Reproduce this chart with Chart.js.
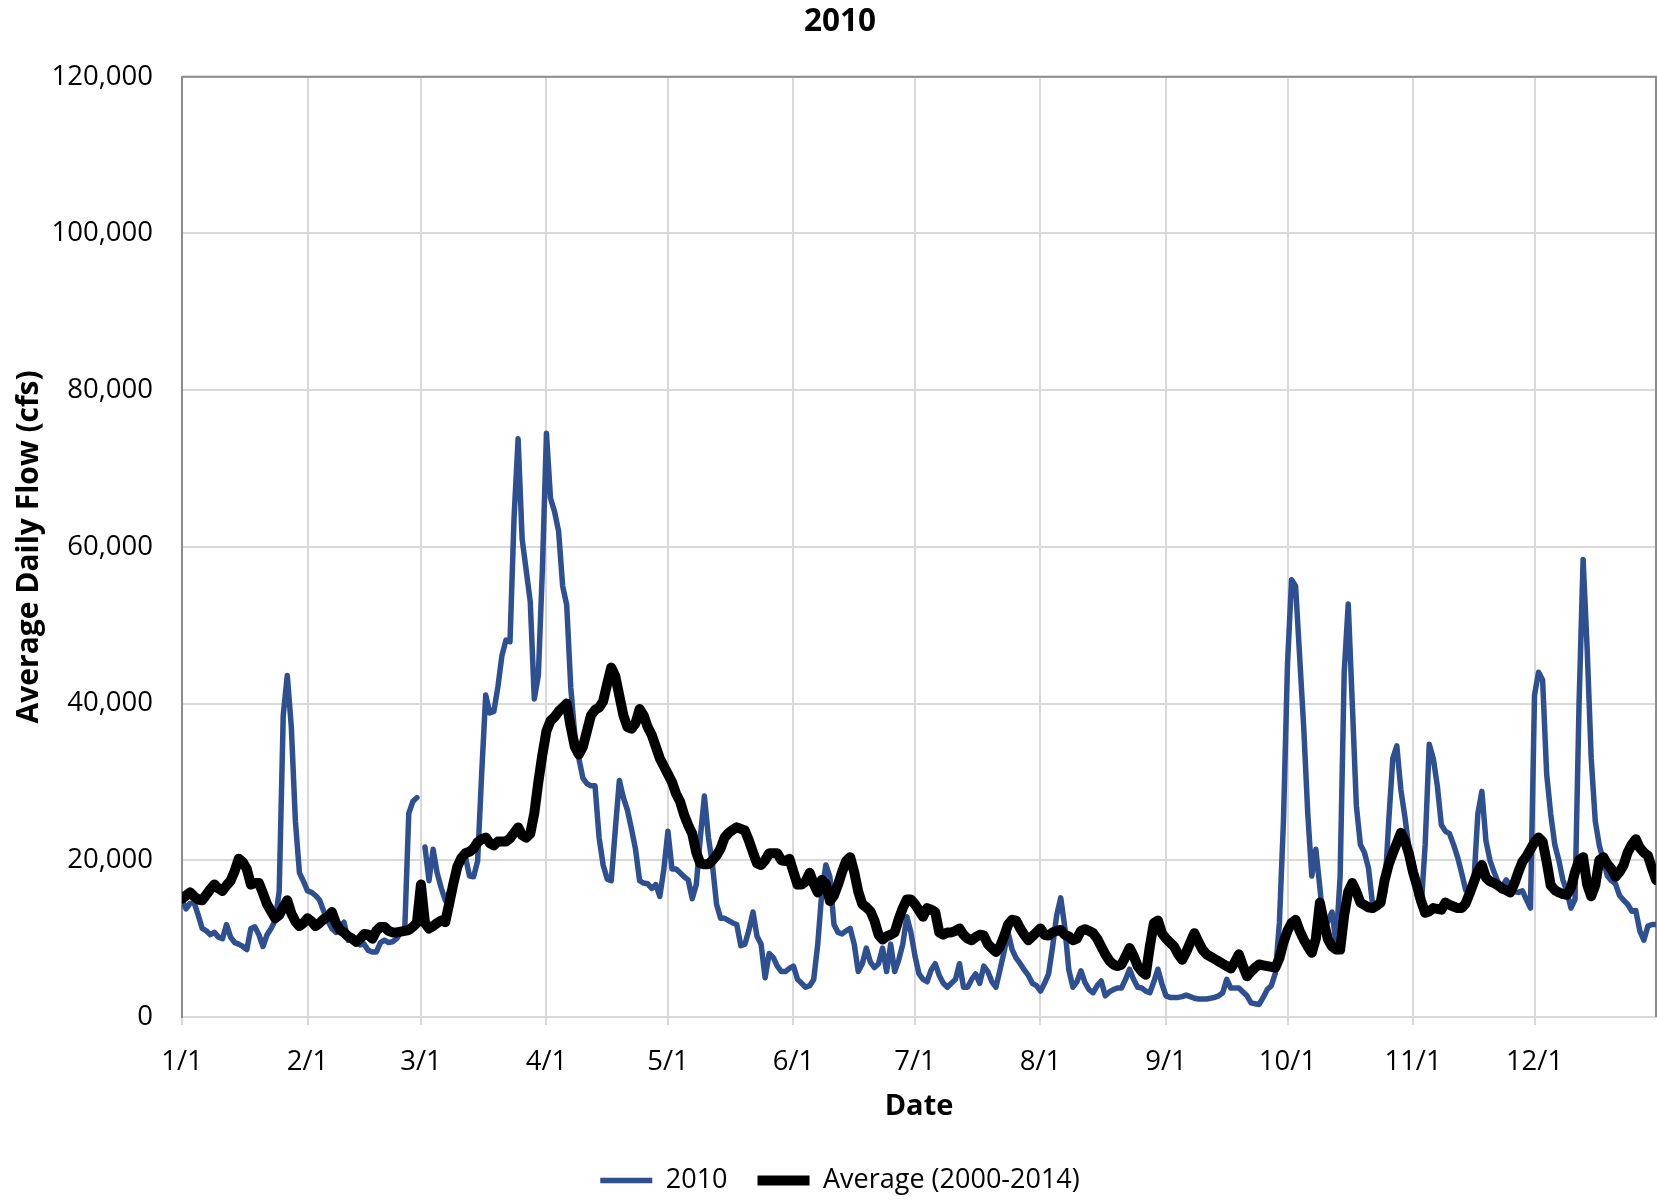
<!DOCTYPE html>
<html>
<head>
<meta charset="utf-8">
<script src="https://cdn.jsdelivr.net/npm/chart.js@4.4.1/dist/chart.umd.min.js"></script>
<style>
  html, body { margin: 0; padding: 0; background: #ffffff; }
  #wrap { width: 1657px; height: 1201px; }
</style>
</head>
<body>
<div id="wrap"><canvas id="c" width="1657" height="1201"></canvas></div>
<script>
// ---- Axis ticks (day-of-year positions of month starts) ----
const monthStarts = [0, 31, 59, 90, 120, 151, 181, 212, 243, 273, 304, 334];
const tickLabels = ['1/1', '2/1', '3/1', '4/1', '5/1', '6/1', '7/1', '8/1', '9/1', '10/1', '11/1', '12/1'];
const yTicks = [0, 20000, 40000, 60000, 80000, 100000, 120000];

// ---- 2010 daily flow (cfs), by month ----
const jan2010 = [15000,13800,14500,14600,13000,11300,11000,10500,10800,10200,10000,11800,10200,9500,9300,9000,8600,11300,11500,10500,9000,10500,11300,12300,16000,38500,43600,37000,25000,18400,17300];
const feb2010 = [16100,15900,15500,14900,13500,12300,11300,10800,11500,12100,9800,10000,9800,9200,9300,8500,8300,8300,9500,9800,9500,9600,10000,10800,11000,26000,27500,28000];
const mar2010 = [null,21700,17400,21400,18400,16500,14900,15900,16500,18900,20000,20400,18000,17900,19900,31000,41100,38800,39000,42100,46100,48100,47900,63700,73800,61000,57000,53000,40600,43600,57200];
const apr2010 = [74500,66200,64500,62000,55000,52600,42100,36000,33000,30500,29800,29500,29500,22900,19400,17600,17400,23900,30200,28000,26400,24000,21400,17400,17100,17000,16400,16900,15400,18900];
const may2010 = [23700,18900,18900,18400,17900,17500,15100,16900,22900,28200,22900,19400,14400,12600,12600,12300,12000,11800,9100,9300,11100,13400,10300,9300,5000,8100,7600,6500,5800,5800,6200];
const jun2010 = [6500,4800,4300,3800,4000,4800,9300,15900,19400,17900,11800,10800,10600,11000,11300,9300,5800,6800,8800,7000,6300,6800,8800,5800,9300,5800,7300,9300,12800,10800];
const jul2010 = [7800,5500,4800,4500,6000,6800,5300,4300,3800,4300,4800,6800,3800,3800,4800,5500,4300,6500,5800,4500,3800,6000,8300,10800,8600,7500,6800,6000,5300,4300,4000];
const aug2010 = [3300,4300,5500,9000,13000,15200,11500,6000,3800,4500,5900,4400,3500,3100,4000,4600,2700,3200,3500,3700,3700,4800,6100,4800,3800,3700,3300,3100,4500,6100,4200];
const sep2010 = [2700,2500,2500,2500,2600,2800,2600,2400,2300,2300,2300,2400,2500,2700,3100,4800,3700,3700,3700,3200,2700,1800,1700,1600,2500,3500,4000,5600,12000,25000];
const oct2010 = [45000,55800,55000,46000,37000,26000,18000,21400,16500,11000,12300,13400,9300,18000,44000,52700,40000,27000,22000,21000,19000,14400,14400,14400,15900,25000,33000,34600,29000,25500,21500];
const nov2010 = [19000,15500,14000,22000,34800,33000,29500,24500,23700,23400,22000,20400,18400,16200,16000,17000,25900,28800,22500,20000,18500,17200,16600,17500,16800,16000,15900,16100,15000,13900];
const dec2010 = [41100,44000,43000,31000,25900,22000,20000,17500,16000,13900,15000,40000,58400,47000,33000,25000,21900,20000,18000,17400,17000,15500,14900,14400,13500,13600,11000,9800,11600,11800,11800];

// ---- Average (2000-2014) daily flow (cfs), by month ----
const janAvg = [15100,15500,15900,15400,15000,14900,15600,16300,16900,16400,16100,16800,17400,18600,20200,19800,18900,16900,17100,17100,15800,14400,13500,12600,13000,14000,14900,13200,12200,11600,12000];
const febAvg = [12600,12200,11600,12000,12500,12800,13400,12000,11100,10800,10300,10000,9600,10000,10600,10500,10000,11000,11500,11500,11000,10800,10800,10900,11000,11100,11500,12000];
const marAvg = [16900,12000,11300,11600,12000,12300,12100,14500,17000,19200,20300,20900,21100,21500,22300,22700,22900,22200,21900,22400,22400,22400,22800,23500,24200,23200,22900,23400,26000,30000,33500];
const aprAvg = [36500,37800,38300,39000,39500,40000,37000,34500,33500,34500,36500,38500,39200,39500,40300,42500,44600,43500,41000,38500,37000,36800,37500,39300,38500,37000,36000,34500,33000,32000];
const mayAvg = [31000,30000,28500,27500,25800,24500,23400,21000,19600,19500,19500,20000,20600,21500,22900,23500,23900,24200,24000,23800,22500,21000,19600,19400,20000,20900,20900,20900,20000,19900,20200];
const junAvg = [18500,16900,16900,17300,18400,17000,15900,17500,17000,14800,15500,16900,18500,19900,20400,18500,16000,14400,14000,13500,12300,10500,9900,10300,10500,10800,12500,13900,15000,15000];
const julAvg = [14400,13600,12800,13900,13700,13400,10800,10500,10800,10800,11000,11300,10500,10000,9800,10200,10500,10400,9300,8800,8300,9000,10300,11800,12400,12300,11300,10500,9800,10300,10800];
const augAvg = [11300,10500,10400,10800,11000,11100,10500,10300,9800,10000,11000,11200,11000,10700,10000,9000,8000,7200,6700,6500,6700,7700,8800,7800,6500,5800,5400,9000,12000,12300,10700];
const sepAvg = [10000,9500,9000,8000,7300,8300,9500,10700,9600,8600,8000,7700,7400,7100,6800,6500,6200,7000,8000,6500,5200,5800,6300,6700,6600,6500,6400,6300,7500,9500];
const octAvg = [11000,12000,12400,11000,9900,9000,8200,10000,14600,12000,9900,9000,8600,8600,13000,16000,17100,16000,14600,14300,14000,13900,14200,14600,17500,19500,20900,22200,23500,22500,20800];
const novAvg = [18500,16700,14800,13300,13500,13900,13800,13700,14600,14300,14100,13900,13900,14500,15800,17200,18600,19400,17800,17300,17100,16800,16400,16200,15900,17000,18500,19800,20500,21400];
const decAvg = [22300,22900,22400,19800,16800,16200,15900,15700,15600,16500,18500,20000,20400,16900,15400,16800,20000,20400,19500,18900,17900,18500,19400,21000,22000,22700,21600,21000,20600,19000,17500];

const flow2010 = [].concat(jan2010, feb2010, mar2010, apr2010, may2010, jun2010, jul2010, aug2010, sep2010, oct2010, nov2010, dec2010);
const flowAvg = [].concat(janAvg, febAvg, marAvg, aprAvg, mayAvg, junAvg, julAvg, augAvg, sepAvg, octAvg, novAvg, decAvg);

const FONT = "'Open Sans', 'DejaVu Sans', sans-serif";
Chart.defaults.font.family = FONT;
Chart.defaults.color = '#000000';

const framePlugin = {
  id: 'frame',
  beforeDatasetsDraw(chart) {
    const { ctx, chartArea: a } = chart;
    ctx.save();
    ctx.strokeStyle = '#8c8c8c';
    ctx.lineWidth = 2;
    ctx.beginPath();
    ctx.moveTo(a.left, a.top);
    ctx.lineTo(a.right, a.top);
    ctx.lineTo(a.right, a.bottom);
    ctx.stroke();
    ctx.restore();
  }
};

new Chart(document.getElementById('c'), {
  type: 'line',
  data: {
    datasets: [
      {
        label: '2010',
        data: flow2010.map((y, i) => ({ x: i, y: y })),
        borderColor: '#2f5090',
        backgroundColor: '#2f5090',
        borderWidth: 5.5,
        pointRadius: 0,
        pointStyle: 'line',
        borderJoinStyle: 'round',
        borderCapStyle: 'round',
        tension: 0,
        spanGaps: false,
        order: 2
      },
      {
        label: 'Average (2000-2014)',
        data: flowAvg.map((y, i) => ({ x: i, y: y })),
        borderColor: '#000000',
        backgroundColor: '#000000',
        borderWidth: 10,
        pointRadius: 0,
        pointStyle: 'line',
        borderJoinStyle: 'round',
        borderCapStyle: 'round',
        tension: 0,
        order: 1
      }
    ]
  },
  options: {
    animation: false,
    responsive: false,
    layout: { padding: { left: 24, right: 1, top: 0, bottom: -3 } },
    plugins: {
      title: {
        display: true,
        text: '2010',
        color: '#000000',
        font: { family: FONT, size: 31.5, weight: 'bold' },
        padding: { top: 3, bottom: 36 }
      },
      legend: {
        position: 'bottom',
        labels: {
          usePointStyle: true,
          pointStyleWidth: 52,
          color: '#000000',
          font: { family: FONT, size: 27 },
          padding: 30,
          sort: (a, b) => a.datasetIndex - b.datasetIndex
        }
      },
      tooltip: { enabled: false }
    },
    scales: {
      x: {
        type: 'linear',
        min: 0,
        max: 364,
        afterBuildTicks: (s) => { s.ticks = monthStarts.map(v => ({ value: v })); },
        afterFit: (s) => { s.height = 120; },
        ticks: {
          autoSkip: false,
          maxRotation: 0,
          minRotation: 0,
          padding: 21,
          color: '#000000',
          font: { family: FONT, size: 27.5 },
          callback: (v) => tickLabels[monthStarts.indexOf(v)]
        },
        grid: { color: '#d9d9d9', lineWidth: 2, tickLength: 8 },
        border: { color: '#d9d9d9', width: 2 },
        title: {
          display: true,
          text: 'Date',
          color: '#000000',
          font: { family: FONT, size: 29, weight: 'bold' },
          padding: { top: 0, bottom: 13 }
        }
      },
      y: {
        min: 0,
        max: 120000,
        afterBuildTicks: (s) => { s.ticks = yTicks.map(v => ({ value: v })); },
        afterFit: (s) => { s.width = 158; },
        ticks: {
          padding: 29,
          color: '#000000',
          font: { family: FONT, size: 27.5 },
          callback: (v) => v.toLocaleString('en-US')
        },
        grid: { color: '#d9d9d9', lineWidth: 2, drawTicks: false },
        border: { color: '#8c8c8c', width: 2 },
        title: {
          display: true,
          text: 'Average Daily Flow (cfs)',
          color: '#000000',
          font: { family: FONT, size: 30, weight: 'bold' },
          padding: { top: -13, bottom: 0 }
        }
      }
    }
  },
  plugins: [framePlugin]
});
</script>
</body>
</html>
